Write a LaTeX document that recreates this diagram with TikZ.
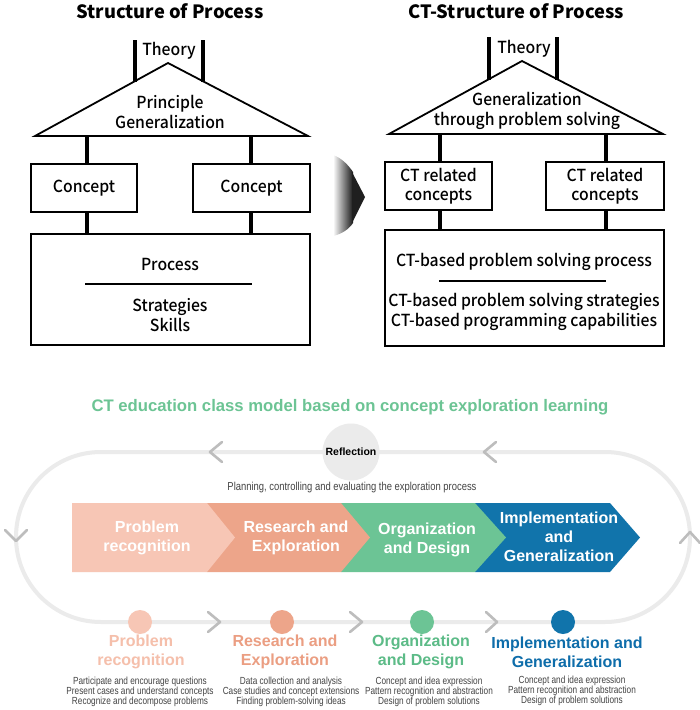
\documentclass[tikz,border=0pt]{standalone}
\usepackage{fontspec}
\setmainfont{Noto Sans CJK KR}
\newfontfamily\medfont[FakeStretch=0.95]{Noto Sans CJK KR Medium}
\newfontfamily\lfont{Liberation Sans}
\newfontfamily\cfont[FakeStretch=0.8]{Liberation Sans}
\newfontfamily\pfont[FakeStretch=0.82]{Liberation Sans}
\usetikzlibrary{calc}
\definecolor{bandA}{HTML}{F7C6B5}
\definecolor{bandB}{HTML}{EDA58A}
\definecolor{bandC}{HTML}{6CC495}
\definecolor{bandD}{HTML}{1174AB}
\definecolor{labA}{HTML}{F5BFAB}
\definecolor{labB}{HTML}{EB9E82}
\definecolor{labC}{HTML}{5CBB87}
\definecolor{labD}{HTML}{0E6DAA}
\definecolor{titlegreen}{HTML}{6CC494}
\definecolor{loopgray}{HTML}{EBEBEB}
\definecolor{chevgray}{HTML}{BDBDBD}
\definecolor{smallgray}{HTML}{444444}
\tikzset{
  postline/.style={line width=3.3pt},
  connline/.style={line width=3.3pt},
  roof/.style={line width=1.8pt, line join=miter},
  boxnode/.style={draw, line width=1.8pt, inner sep=0pt},
  bodytext/.style={font=\medfont\fontsize{16.6}{19.5}\selectfont, align=center, inner sep=0pt},
  headtext/.style={font=\fontsize{18.3}{22}\selectfont\bfseries, inner sep=0pt},
  loopline/.style={draw=loopgray, line width=4pt},
  chev/.style={draw=chevgray, line width=2.6pt, line cap=round, line join=round},
  bandtext/.style={font=\lfont\bfseries\fontsize{16}{19}\selectfont, text=white, align=center, inner sep=0pt},
  labtext/.style={font=\lfont\bfseries\fontsize{16}{19}\selectfont, align=center, inner sep=0pt},
  desctext/.style={font=\cfont\fontsize{10.3}{10}\selectfont, text=smallgray, align=center, inner sep=0pt},
  dot/.style={circle, inner sep=0pt, minimum size=24pt}
}
\begin{document}
\begin{tikzpicture}[x=1pt,y=-1pt]
\useasboundingbox (0,0) rectangle (700,710);
\fill[white] (0,0) rectangle (700,710);

% ---------------- left structure ----------------
\node[headtext] (tL) at (170,11) {Structure of Process};
\node[bodytext] (thL) at (169,51) {Theory};
\coordinate (apL) at (168,63);
\coordinate (blL) at (35,136);
\coordinate (brL) at (308,136);
\draw[roof] (blL) -- (apL) -- (brL) -- cycle;
\coordinate (pLa) at (135,40);
\coordinate (pLb) at (203,40);
\draw[postline] (pLa) -- (135,81.5);
\draw[postline] (pLb) -- (203,81.5);
\node[bodytext] (prL) at (170,112) {Principle\\Generalization};
\node[boxnode, minimum width=106pt, minimum height=48pt] (cL1) at (84,188) {};
\node[bodytext] at (cL1) {Concept};
\node[boxnode, minimum width=117pt, minimum height=48pt] (cL2) at (251.5,188) {};
\node[bodytext] at (cL2) {Concept};
\node[boxnode, minimum width=279pt, minimum height=111pt] (pL) at (170.5,289.5) {};
\coordinate (aL1) at (87,136);
\coordinate (aL2) at (251,136);
\draw[connline] (aL1) -- (aL1 |- cL1.north);
\draw[connline] (aL2) -- (aL2 |- cL2.north);
\draw[connline] (aL1 |- cL1.south) -- (aL1 |- pL.north);
\draw[connline] (aL2 |- cL2.south) -- (aL2 |- pL.north);
\node[bodytext] (procL) at (170,264) {Process};
\coordinate (lnL1) at (85,284);
\coordinate (lnL2) at (252,284);
\draw[line width=1.6pt] (lnL1) -- (lnL2);
\node[bodytext] (skL) at (170,315) {Strategies\\Skills};

% ---------------- middle arrow ----------------
\shade[left color=white, right color=black!90] (333,155) .. controls (342,158) and (349,166) .. (353,172) -- (353,223) .. controls (349,229) and (342,234) .. (333,236) -- cycle;
\fill[black!88] (352,172) -- (365,197) -- (352,223) -- cycle;

% ---------------- right structure ----------------
\node[headtext] (tR) at (516,11) {CT-Structure of Process};
\node[bodytext] (thR) at (524,49) {Theory};
\coordinate (apR) at (522,61);
\coordinate (blR) at (389,134);
\coordinate (brR) at (663,134);
\draw[roof] (blR) -- (apR) -- (brR) -- cycle;
\coordinate (pRa) at (489,37);
\coordinate (pRb) at (557,37);
\draw[postline] (pRa) -- (489,79.5);
\draw[postline] (pRb) -- (557,79.5);
\node[bodytext] (gR) at (527,111) {Generalization\\through problem solving};
\node[boxnode, minimum width=107pt, minimum height=48pt] (cR1) at (438.5,186) {};
\node[bodytext] at (cR1) {CT related\\concepts};
\node[boxnode, minimum width=118pt, minimum height=48pt] (cR2) at (605,186) {};
\node[bodytext] at (cR2) {CT related\\concepts};
\node[boxnode, minimum width=279pt, minimum height=116pt] (pR) at (524.5,288) {};
\coordinate (aR1) at (440,134);
\coordinate (aR2) at (606,134);
\draw[connline] (aR1) -- (aR1 |- cR1.north);
\draw[connline] (aR2) -- (aR2 |- cR2.north);
\draw[connline] (aR1 |- cR1.south) -- (aR1 |- pR.north);
\draw[connline] (aR2 |- cR2.south) -- (aR2 |- pR.north);
\node[bodytext] (procR) at (524,262) {CT-based problem solving process};
\coordinate (lnR1) at (439,281);
\coordinate (lnR2) at (606,281);
\draw[line width=1.6pt] (lnR1) -- (lnR2);
\node[bodytext] (skR) at (524,312) {CT-based problem solving strategies\\CT-based programming capabilities};

% ---------------- bottom model ----------------
\node[font=\lfont\bfseries\fontsize{16.7}{19}\selectfont, text=titlegreen, inner sep=0pt] (mt) at (350,407) {CT education class model based on concept exploration learning};

\draw[loopline, rounded corners=84.9pt] (16,452) rectangle (690,622);
\draw[chev] (222,442) -- (210,452) -- (222,462);
\draw[chev] (496,442) -- (484,452) -- (496,462);
\draw[chev] (5,530) -- (16,541) -- (27,530);
\draw[chev] (680,543) -- (690,532) -- (700,543);
\draw[chev] (208,612) -- (220,622) -- (208,632);
\draw[chev] (350,612) -- (362,622) -- (350,632);
\draw[chev] (486,612) -- (497,622) -- (486,632);

\node[circle, fill=loopgray, minimum size=57pt, inner sep=0pt, font=\lfont\bfseries\fontsize{10.5}{12}\selectfont] (refl) at (351,452) {Reflection};
\node[font=\pfont\fontsize{11.5}{12}\selectfont, text=smallgray, inner sep=0pt] (plan) at (352,488) {Planning, controlling and evaluating the exploration process};

% bands
\fill[bandD] (475,503) -- (610,503) -- (640,537.5) -- (610,572) -- (475,572) -- cycle;
\fill[bandC] (341,503) -- (475,503) -- (506,537.5) -- (475,572) -- (341,572) -- cycle;
\fill[bandB] (207,503) -- (341,503) -- (370,537.5) -- (341,572) -- (207,572) -- cycle;
\fill[bandA] (72,503) -- (207,503) -- (235,537.5) -- (207,572) -- (72,572) -- cycle;
\node[bandtext] (bt1) at (147,538) {Problem\\recognition};
\node[bandtext] (bt2) at (296,538) {Research and\\Exploration};
\node[bandtext] (bt3) at (427,540) {Organization\\and Design};
\node[bandtext] (bt4) at (559,537) {Implementation\\and\\Generalization};

% stage dots and labels
\node[dot, fill=bandA] (d1) at (140,622) {};
\node[dot, fill=bandB] (d2) at (282,622) {};
\node[dot, fill=bandC] (d3) at (422,622) {};
\node[dot, fill=bandD] (d4) at (563,622) {};
\node[labtext, text=labA] (l1) at (141,652) {Problem\\recognition};
\node[labtext, text=labB] (l2) at (285,652) {Research and\\Exploration};
\node[labtext, text=labC] (l3) at (421,652) {Organization\\and Design};
\node[labtext, text=labD] (l4) at (567,652) {Implementation and\\Generalization};
\node[desctext] (s1) at (140,692) {Participate and encourage questions\\Present cases and understand concepts\\Recognize and decompose problems};
\node[desctext] (s2) at (291,692) {Data collection and analysis\\Case studies and concept extensions\\Finding problem-solving ideas};
\node[desctext] (s3) at (429,692) {Concept and idea expression\\Pattern recognition and abstraction\\Design of problem solutions};
\node[desctext] (s4) at (572,691) {Concept and idea expression\\Pattern recognition and abstraction\\Design of problem solutions};
\end{tikzpicture}
\end{document}
